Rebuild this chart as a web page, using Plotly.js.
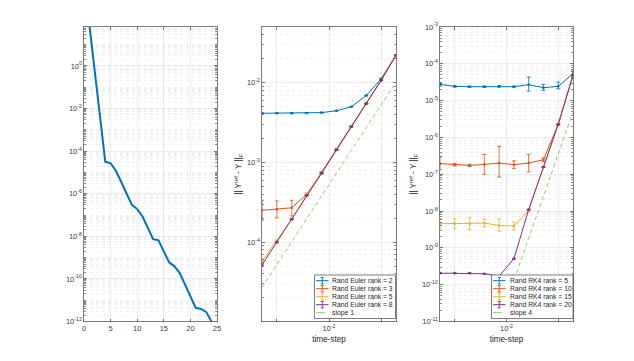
<!DOCTYPE html>
<html>
<head>
<meta charset="utf-8">
<script src="https://cdn.plot.ly/plotly-3.0.1.min.js"></script>
<style>html,body{margin:0;padding:0;background:#fff;}#plot{width:634px;height:361px;}</style>
</head>
<body>
<div id="plot"></div>
<script>
// ---------- data ----------
const svIndex = [1,2,3,4,5,6,7,8,9,10,11,12,13,14,15,16,17,18,19,20,21,22,23,24];
const svValues = [89, 0.71, 5.0e-3, 3.16e-5, 2.69e-5, 1.2e-5, 3.55e-6, 1.0e-6, 3.02e-7, 1.9e-7, 8.5e-8, 2.5e-8,
                  7.4e-9, 6.5e-9, 2.0e-9, 6.0e-10, 3.9e-10, 1.9e-10, 5.4e-11, 1.5e-11, 4.4e-12, 3.9e-12, 2.75e-12, 9.5e-13];

const timeStep = [5.18e-4, 1.0e-3, 1.93e-3, 3.73e-3, 7.2e-3, 1.39e-2, 2.68e-2, 5.18e-2, 0.1, 0.193];

const eulerLabels = ["Rand Euler rank = 2", "Rand Euler rank = 3", "Rand Euler rank = 5", "Rand Euler rank = 8", "slope 1"];
const eulerR2 = [4.14e-3, 4.15e-3, 4.15e-3, 4.18e-3, 4.22e-3, 4.45e-3, 5.0e-3, 6.9e-3, 1.12e-2, 2.21e-2];
const eulerR2Err = [5e-5, 4e-5, 4e-5, 4e-5, 4e-5, 4e-5, 5e-5, 8e-5, 1.5e-4, 2.5e-4];
const eulerR3 = [2.51e-4, 2.58e-4, 2.70e-4, 3.98e-4, 7.5e-4, 1.47e-3, 2.85e-3, 5.55e-3, 1.08e-2, 2.2e-2];
const eulerR3ErrPlus = [0.84e-4, 0.71e-4, 0.65e-4, 0.15e-4, 0.1e-4, 0.2e-4, 0.3e-4, 0.5e-4, 1e-4, 2e-4];
const eulerR3ErrMinus = [0.63e-4, 0.56e-4, 0.57e-4, 0.12e-4, 0.1e-4, 0.2e-4, 0.3e-4, 0.5e-4, 1e-4, 2e-4];
const eulerR5 = [5.75e-5, 1.05e-4, 1.96e-4, 3.92e-4, 7.35e-4, 1.44e-3, 2.83e-3, 5.45e-3, 1.07e-2, 2.21e-2];
const eulerR5Err = [2e-6, 2e-6, 3e-6, 5e-6, 8e-6, 1.5e-5, 3e-5, 5e-5, 1e-4, 2e-4];
const eulerR8 = [5.2e-5, 1.0e-4, 1.94e-4, 3.85e-4, 7.3e-4, 1.43e-3, 2.81e-3, 5.43e-3, 1.07e-2, 2.21e-2];
const eulerR8Err = [1.5e-6, 2e-6, 3e-6, 5e-6, 8e-6, 1.5e-5, 3e-5, 5e-5, 1e-4, 2e-4];
const eulerSlope1 = [2.7e-5, 5.3e-5, 1.02e-4, 1.97e-4, 3.8e-4, 7.33e-4, 1.42e-3, 2.73e-3, 5.28e-3, 1.02e-2];

const rk4Labels = ["Rand RK4 rank = 5", "Rand RK4 rank = 10", "Rand RK4 rank = 15", "Rand RK4 rank = 20", "slope 4"];
const rk4R5 = [2.77e-5, 2.44e-5, 2.39e-5, 2.39e-5, 2.44e-5, 2.39e-5, 2.71e-5, 2.25e-5, 2.44e-5, 5.39e-5];
const rk4R5ErrPlus = [0.3e-5, 0.1e-5, 0.1e-5, 0.1e-5, 0.1e-5, 0.1e-5, 1.67e-5, 0.52e-5, 0.76e-5, 1.0e-5];
const rk4R5ErrMinus = [0.3e-5, 0.1e-5, 0.1e-5, 0.1e-5, 0.1e-5, 0.1e-5, 0.89e-5, 0.35e-5, 0.34e-5, 0.83e-5];
const rk4R10 = [1.94e-7, 1.82e-7, 1.74e-7, 1.85e-7, 2.01e-7, 1.82e-7, 2.01e-7, 2.48e-7, 2.26e-6, 5.0e-5];
const rk4R10ErrPlus = [0.99e-7, 0.15e-7, 0.12e-7, 1.6e-7, 3.7e-7, 0.5e-7, 1.45e-7, 0.3e-7, 0.1e-6, 0.2e-5];
const rk4R10ErrMinus = [0.61e-7, 0.15e-7, 0.12e-7, 0.85e-7, 1.17e-7, 0.4e-7, 0.86e-7, 0.3e-7, 0.1e-6, 0.2e-5];
const rk4R15 = [4.52e-9, 4.52e-9, 4.52e-9, 4.71e-9, 4.07e-9, 3.91e-9, 1.05e-8, 1.57e-7, 2.26e-6, 4.9e-5];
const rk4R15ErrPlus = [1.7e-9, 1.7e-9, 2.2e-9, 1.4e-9, 2.1e-9, 1.1e-9, 0.1e-8, 0.5e-8, 0.5e-7, 1e-6];
const rk4R15ErrMinus = [1.2e-9, 1.2e-9, 1.4e-9, 1.0e-9, 1.2e-9, 0.8e-9, 0.1e-8, 0.5e-8, 0.5e-7, 1e-6];
const rk4R20 = [2.06e-10, 2.06e-10, 2.06e-10, 1.98e-10, 1.7e-10, 5.06e-10, 1.09e-8, 1.57e-7, 2.26e-6, 4.86e-5];
const rk4R20Err = [3e-12, 3e-12, 3e-12, 3e-12, 3e-12, 1e-11, 1e-10, 2e-9, 3e-8, 1e-6];
const rk4Slope4 = [2.5e-16, 3.5e-15, 4.9e-14, 6.8e-13, 9.5e-12, 1.32e-10, 1.82e-9, 2.54e-8, 3.52e-7, 4.9e-6];

const leftYTicks = [1e-12,1e-10,1e-8,1e-6,1e-4,1e-2,1e0];
const leftYText = ["10<sup>-12</sup>","10<sup>-10</sup>","10<sup>-8</sup>","10<sup>-6</sup>","10<sup>-4</sup>","10<sup>-2</sup>","10<sup>0</sup>"];
const stepTicks = [1e-3, 1e-2, 1e-1];
const stepText = ["", "10<sup>-2</sup>", ""];
const eulerYTicks = [1e-4, 1e-3, 1e-2];
const eulerYText = ["10<sup>-4</sup>","10<sup>-3</sup>","10<sup>-2</sup>"];
const rk4YTicks = [1e-11,1e-10,1e-9,1e-8,1e-7,1e-6,1e-5,1e-4,1e-3];
const rk4YText = ["10<sup>-11</sup>","10<sup>-10</sup>","10<sup>-9</sup>","10<sup>-8</sup>","10<sup>-7</sup>","10<sup>-6</sup>","10<sup>-5</sup>","10<sup>-4</sup>","10<sup>-3</sup>"];

// ---------- style ----------
const C = ['#0072BD', '#D95319', '#EDB120', '#7E2F8E'];
const SLOPE = '#8cc152';
const W = 634, H = 361;
const px = v => v / W;
const py = v => 1 - v / H;
const AX = '#262626';
const FONT = 'Liberation Sans, Arial, Helvetica, sans-serif';

// minor tick positions for log axes (gridline positions only)
function minorLog(e0, e1, withDecades) {
  const out = [];
  for (let e = e0; e <= e1; e++) {
    for (let m = 1; m <= 9; m++) {
      if (m === 1 && !withDecades) continue;
      out.push(m * Math.pow(10, e));
    }
  }
  return out;
}

function errTrace(x, y, plus, minus, color, xa, ya) {
  return {
    x: x, y: y, xaxis: xa, yaxis: ya, type: 'scatter', mode: 'lines+markers',
    line: {color: color, width: 1}, marker: {color: color, size: 2.6},
    error_y: {type: 'data', array: plus, arrayminus: minus || plus, symmetric: !minus,
              color: color, thickness: 0.8, width: 2},
    showlegend: false, cliponaxis: true
  };
}

const traces = [
  {x: svIndex, y: svValues, xaxis: 'x', yaxis: 'y', type: 'scatter', mode: 'lines',
   line: {color: C[0], width: 2}, showlegend: false},
  errTrace(timeStep, eulerR2, eulerR2Err, null, C[0], 'x2', 'y2'),
  errTrace(timeStep, eulerR3, eulerR3ErrPlus, eulerR3ErrMinus, C[1], 'x2', 'y2'),
  errTrace(timeStep, eulerR5, eulerR5Err, null, C[2], 'x2', 'y2'),
  errTrace(timeStep, eulerR8, eulerR8Err, null, C[3], 'x2', 'y2'),
  {x: timeStep, y: eulerSlope1, xaxis: 'x2', yaxis: 'y2', type: 'scatter', mode: 'lines',
   line: {color: SLOPE, width: 0.9, dash: '4px,3px'}, showlegend: false},
  errTrace(timeStep, rk4R5, rk4R5ErrPlus, rk4R5ErrMinus, C[0], 'x3', 'y3'),
  errTrace(timeStep, rk4R10, rk4R10ErrPlus, rk4R10ErrMinus, C[1], 'x3', 'y3'),
  errTrace(timeStep, rk4R15, rk4R15ErrPlus, rk4R15ErrMinus, C[2], 'x3', 'y3'),
  errTrace(timeStep, rk4R20, rk4R20Err, null, C[3], 'x3', 'y3'),
  {x: timeStep, y: rk4Slope4, xaxis: 'x3', yaxis: 'y3', type: 'scatter', mode: 'lines',
   line: {color: SLOPE, width: 0.9, dash: '4px,3px'}, showlegend: false}
];

const yDom = [1 - 321.5 / H, 1 - 27 / H];
function baseAxis(extra) {
  return Object.assign({
    showline: true, mirror: 'ticks', linecolor: AX, linewidth: 0.6,
    ticks: 'inside', ticklen: 3, tickcolor: AX, tickwidth: 0.6,
    showgrid: true, gridcolor: '#e0e0e0', gridwidth: 0.6, zeroline: false,
    tickfont: {family: FONT, size: 7.5, color: '#3a3a3a'}, automargin: false
  }, extra);
}
function minorCfg(vals) {
  return {tickmode: 'array', tickvals: vals, showgrid: true, gridcolor: '#e6e6e6', griddash: 'dot',
          gridwidth: 0.6, ticks: 'inside', ticklen: 1.8, tickcolor: AX, tickwidth: 0.5};
}
const titleFont = {family: FONT, size: 8.2, color: '#262626'};
const yTitle = "|| Y<sup>ref</sup> - Y ||<sub>F</sub>";

const layout = {
  width: W, height: H, margin: {l: 0, r: 0, t: 0, b: 0},
  paper_bgcolor: '#fff', plot_bgcolor: '#fff', showlegend: false,
  font: {family: FONT},
  xaxis: baseAxis({domain: [px(84), px(217)], anchor: 'y', range: [0, 25], tickmode: 'linear', tick0: 0, dtick: 5}),
  yaxis: baseAxis({domain: yDom, anchor: 'x', type: 'log', range: [-12, 1.83],
                   tickmode: 'array', tickvals: leftYTicks, ticktext: leftYText,
                   minor: minorCfg(minorLog(-12, 1, false).concat([1e-11,1e-9,1e-7,1e-5,1e-3,1e-1,1e1]))}),
  xaxis2: baseAxis({domain: [px(262), px(396)], anchor: 'y2', type: 'log', range: [-3.2857, -0.7143],
                    tickmode: 'array', tickvals: stepTicks, ticktext: stepText,
                    title: {text: 'time-step', font: titleFont, standoff: 3}}),
  yaxis2: baseAxis({domain: yDom, anchor: 'x2', type: 'log', range: [-4.995, -1.301],
                    tickmode: 'array', tickvals: eulerYTicks, ticktext: eulerYText,
                    minor: minorCfg(minorLog(-5, -2, false)),
                    title: {text: yTitle, font: titleFont, standoff: 3}}),
  xaxis3: baseAxis({domain: [px(440), px(573)], anchor: 'y3', type: 'log', range: [-3.2857, -0.7143],
                    tickmode: 'array', tickvals: stepTicks, ticktext: stepText,
                    title: {text: 'time-step', font: titleFont, standoff: 3}}),
  yaxis3: baseAxis({domain: yDom, anchor: 'x3', type: 'log', range: [-11, -3],
                    tickmode: 'array', tickvals: rk4YTicks, ticktext: rk4YText,
                    minor: minorCfg(minorLog(-11, -4, false)),
                    title: {text: yTitle, font: titleFont, standoff: 3}}),
  shapes: [], annotations: []
};

// ---------- manual legends ----------
function addLegend(labels, box, iconX0, iconX1, textX) {
  layout.shapes.push({type: 'rect', xref: 'paper', yref: 'paper',
    x0: px(box[0]), x1: px(box[1]), y0: py(box[3]), y1: py(box[2]),
    line: {color: '#262626', width: 0.6}, fillcolor: '#ffffff', layer: 'above'});
  labels.forEach((lab, i) => {
    const yc = box[2] + 5.7 + i * 8;
    const isSlope = i === labels.length - 1;
    const col = isSlope ? SLOPE : C[i];
    layout.shapes.push({type: 'line', xref: 'paper', yref: 'paper', layer: 'above',
      x0: px(iconX0), x1: px(iconX1), y0: py(yc), y1: py(yc),
      line: {color: col, width: isSlope ? 0.9 : 1, dash: isSlope ? 'dash' : 'solid'}});
    if (!isSlope) {
      const xm = (iconX0 + iconX1) / 2;
      layout.shapes.push({type: 'line', xref: 'paper', yref: 'paper', layer: 'above',
        x0: px(xm), x1: px(xm), y0: py(yc - 3.2), y1: py(yc + 3.2), line: {color: col, width: 0.9}});
      [yc - 3.2, yc + 3.2].forEach(yy => layout.shapes.push({type: 'line', xref: 'paper', yref: 'paper', layer: 'above',
        x0: px(xm - 1.6), x1: px(xm + 1.6), y0: py(yy), y1: py(yy), line: {color: col, width: 0.9}}));
    }
    layout.annotations.push({xref: 'paper', yref: 'paper', x: px(textX), y: py(yc),
      xanchor: 'left', yanchor: 'middle', showarrow: false, text: lab,
      font: {family: FONT, size: 6.8, color: '#262626'}});
  });
}
addLegend(eulerLabels, [314.5, 395.5, 275, 318.5], 316, 328.5, 330);
addLegend(rk4Labels, [491.5, 573, 275, 318.5], 493, 505.5, 507.5);

Plotly.newPlot('plot', traces, layout, {staticPlot: true, displayModeBar: false});
</script>
</body>
</html>
